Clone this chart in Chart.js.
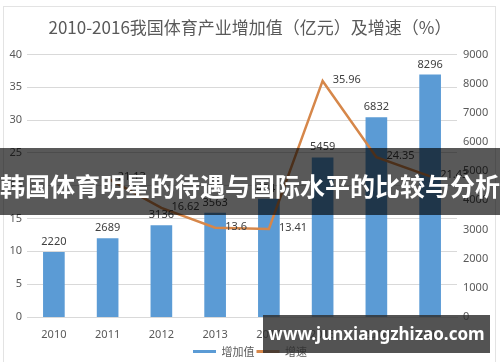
<!DOCTYPE html>
<html><head><meta charset="utf-8">
<script src="https://cdn.jsdelivr.net/npm/chart.js@4.4.0/dist/chart.umd.min.js"></script>
<style>
html,body{margin:0;padding:0;background:#fff;}
#wrap{position:relative;width:500px;height:362px;overflow:hidden;}
#frame{position:absolute;left:3px;top:6px;width:493px;height:360px;border:1px solid #e3e3e3;box-sizing:border-box;}
#c{position:absolute;left:0;top:0;}
#banner{position:absolute;left:0;top:148px;width:500px;height:67px;background:rgba(0,0,0,0.65);color:#fff;font:bold 25px "Noto Sans CJK SC";line-height:67px;padding-top:4px;box-sizing:border-box;text-align:center;white-space:nowrap;}
#wm{position:absolute;left:263px;top:315px;width:227px;height:38px;background:rgba(45,45,45,0.82);color:#fff;font:bold 17px "Noto Sans","DejaVu Sans",sans-serif;line-height:38px;text-align:center;white-space:nowrap;}
</style></head>
<body>
<div id="wrap">
<div id="frame"></div>
<canvas id="c" width="500" height="362"></canvas>
<div id="banner">韩国体育明星的待遇与国际水平的比较与分析</div>
<div id="wm">www.junxiangzhizao.com</div>
</div>
<script>
const years=['2010','2011','2012','2013','2014','2015','2016','2017'];
const addedValue=[2220,2689,3136,3563,4041,5459,6832,8296];
const growthRate=[null,21.13,16.62,13.6,13.41,35.96,24.35,21.43];
const titleText='2010-2016我国体育产业增加值（亿元）及增速（%）';
const legendNames=['增加值','增速'];
const BLUE='#5b9bd5', ORANGE='#d6874a', TXT='#595959';

const labelPlugin={id:'vals',afterDatasetsDraw(chart){
  const ctx=chart.ctx;ctx.save();
  ctx.font='11px "Noto Sans", sans-serif';ctx.fillStyle='#404040';
  chart.getDatasetMeta(0).data.forEach((b,i)=>{ctx.textAlign='center';ctx.textBaseline='bottom';ctx.fillText(String(addedValue[i]),b.x,b.y-5);});
  chart.getDatasetMeta(1).data.forEach((p,i)=>{if(growthRate[i]==null)return;ctx.textAlign='left';ctx.textBaseline='middle';ctx.fillText(String(growthRate[i]),p.x+10,p.y-1);});
  ctx.restore();}};

new Chart(document.getElementById('c'),{
  type:'bar',
  data:{labels:years,datasets:[
    {type:'bar',label:legendNames[0],data:addedValue,yAxisID:'y1',backgroundColor:BLUE,barThickness:21,order:1},
    {type:'line',label:legendNames[1],data:growthRate,yAxisID:'y',borderColor:ORANGE,borderWidth:2.5,pointRadius:0,tension:0,fill:false,order:0}
  ]},
  options:{responsive:false,animation:false,
    layout:{padding:{top:0,left:0,right:0,bottom:-5}},
    plugins:{
      title:{display:true,text:titleText,color:TXT,font:{size:17,family:'"Noto Sans CJK SC"',weight:'normal'},padding:{top:17,bottom:17}},
      legend:{position:'bottom',labels:{color:TXT,font:{size:11,family:'"Noto Sans CJK SC"'},usePointStyle:true,pointStyleWidth:23,boxHeight:6,padding:2,
        generateLabels:()=>[
          {text:legendNames[0],fillStyle:BLUE,strokeStyle:BLUE,lineWidth:3,pointStyle:'line',datasetIndex:0,hidden:false,fontColor:TXT},
          {text:legendNames[1],fillStyle:ORANGE,strokeStyle:ORANGE,lineWidth:3,pointStyle:'line',datasetIndex:1,hidden:false,fontColor:TXT}]}},
      tooltip:{enabled:false}},
    scales:{
      x:{grid:{display:false},border:{color:'#d9d9d9'},ticks:{color:TXT,font:{size:11,family:'"Noto Sans"'},padding:3},afterFit:s=>{s.height=27;}},
      y:{position:'left',min:0,max:40,ticks:{stepSize:5,color:TXT,font:{size:11,family:'"Noto Sans"'},padding:5},grid:{color:'#d9d9d9',drawTicks:false},border:{display:false},afterFit:s=>{s.width=27;}},
      y1:{position:'right',min:0,max:9000,ticks:{stepSize:1000,color:TXT,font:{size:11,family:'"Noto Sans"'},padding:6,callback:v=>String(v)},grid:{display:false,drawTicks:false},border:{display:false},afterFit:s=>{s.width=43;}}
    }},
  plugins:[labelPlugin]
});
</script>
</body></html>
